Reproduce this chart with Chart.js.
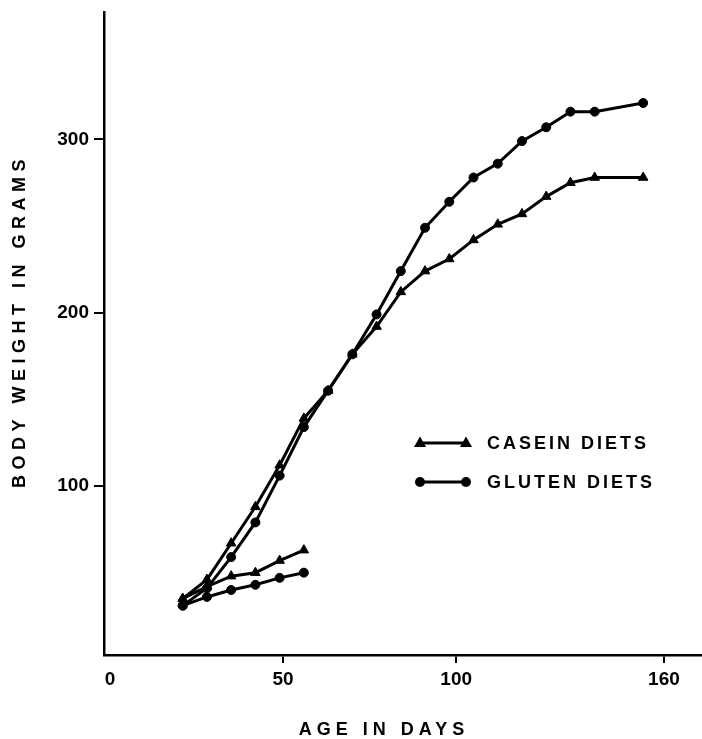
<!DOCTYPE html>
<html>
<head>
<meta charset="utf-8">
<script src="https://cdn.jsdelivr.net/npm/chart.js@4.4.0/dist/chart.umd.min.js"></script>
<style>
  html, body { margin: 0; padding: 0; background: #fff; }
  #wrap { width: 702px; height: 739px; }
</style>
</head>
<body>
<div id="wrap"><canvas id="c" width="702" height="739"></canvas></div>
<script>
// ---- data ----
const days = [21, 28, 35, 42, 49, 56, 63, 70, 77, 84, 91, 98, 105, 112, 119, 126, 133, 140, 154];
const caseinHigh = [35, 46, 67, 88, 112, 139, 155, 176, 192, 212, 224, 231, 242, 251, 257, 267, 275, 278, 278];
const glutenHigh = [31, 41, 59, 79, 106, 134, 155, 176, 199, 224, 249, 264, 278, 286, 299, 307, 316, 316, 321];
const shortDays = [21, 28, 35, 42, 49, 56];
const caseinLow = [35, 42, 48, 50, 57, 63];
const glutenLow = [31, 36, 40, 43, 47, 50];
const xTicks = [0, 50, 100, 160];
const yTicks = [100, 200, 300];
const xTitle = 'AGE IN DAYS';
const yTitle = 'BODY WEIGHT IN GRAMS';
const legendLabels = ['CASEIN DIETS', 'GLUTEN DIETS'];

const pts = (xs, ys) => xs.map((x, i) => ({ x: x, y: ys[i] }));
const FONT = '"Liberation Sans", Arial, sans-serif';

function ds(label, data, style, r) {
  return {
    label: label, data: data,
    borderColor: '#000', backgroundColor: '#000',
    borderWidth: 3, tension: 0,
    pointStyle: style, pointRadius: r, pointHoverRadius: r,
    pointBorderWidth: 1, showLine: true
  };
}

const decor = {
  id: 'decor',
  afterDraw(chart) {
    const ctx = chart.ctx;
    ctx.save();
    ctx.fillStyle = '#000';
    ctx.strokeStyle = '#000';
    ctx.font = 'bold 18px ' + FONT;
    ctx.textBaseline = 'middle';
    // x title
    ctx.letterSpacing = '5px';
    ctx.textAlign = 'center';
    ctx.fillText(xTitle, 384, 730);
    // y title
    ctx.save();
    ctx.translate(20, 321);
    ctx.rotate(-Math.PI / 2);
    ctx.letterSpacing = '5.5px';
    ctx.fillText(yTitle, 0, 0);
    ctx.restore();
    // legend
    ctx.letterSpacing = '3px';
    ctx.textAlign = 'left';
    const rows = [443, 482];
    rows.forEach((y, i) => {
      ctx.lineWidth = 3;
      ctx.beginPath();
      ctx.moveTo(420, y); ctx.lineTo(466, y);
      ctx.stroke();
      [420, 466].forEach(x => {
        ctx.beginPath();
        if (i === 0) {
          ctx.moveTo(x, y - 6.5); ctx.lineTo(x + 6, y + 4); ctx.lineTo(x - 6, y + 4); ctx.closePath();
        } else {
          ctx.arc(x, y, 5, 0, Math.PI * 2);
        }
        ctx.fill();
      });
      ctx.fillText(legendLabels[i], 487, y + 1);
    });
    ctx.restore();
  }
};

function zeroPad(s) { s.paddingLeft = 0; s.paddingRight = 0; s.paddingTop = 0; s.paddingBottom = 0; }

new Chart(document.getElementById('c'), {
  type: 'scatter',
  data: {
    datasets: [
      ds('Casein diets', pts(days, caseinHigh), 'triangle', 5.5),
      ds('Gluten diets', pts(days, glutenHigh), 'circle', 4.5),
      ds('Casein diets (low)', pts(shortDays, caseinLow), 'triangle', 5.5),
      ds('Gluten diets (low)', pts(shortDays, glutenLow), 'circle', 4.5)
    ]
  },
  options: {
    responsive: false,
    animation: false,
    devicePixelRatio: 1,
    layout: { autoPadding: false, padding: { left: 0, right: 0, top: 12, bottom: 0 } },
    plugins: { legend: { display: false }, tooltip: { enabled: false } },
    scales: {
      x: {
        type: 'linear', min: -1.73, max: 171,
        afterBuildTicks: s => { s.ticks = xTicks.map(v => ({ value: v })); },
        afterFit: s => { s.height = 84; zeroPad(s); },
        border: { display: true, color: '#000', width: 2.5 },
        grid: {
          display: true, drawOnChartArea: false, drawTicks: true, tickLength: 8,
          color: c => (c.tick && c.tick.value === 0) ? 'rgba(0,0,0,0)' : '#000', lineWidth: 2
        },
        ticks: { color: '#000', padding: 5, font: { family: FONT, size: 19, weight: 'bold' }, maxRotation: 0, autoSkip: false }
      },
      y: {
        type: 'linear', min: 2.5, max: 373.5,
        afterBuildTicks: s => { s.ticks = yTicks.map(v => ({ value: v })); },
        afterFit: s => { s.width = 104; zeroPad(s); },
        border: { display: true, color: '#000', width: 2.5 },
        grid: { display: true, drawOnChartArea: false, drawTicks: true, tickLength: 10, color: '#000', lineWidth: 2 },
        ticks: { color: '#000', padding: 5, font: { family: FONT, size: 19, weight: 'bold' }, autoSkip: false }
      }
    }
  },
  plugins: [decor]
});
</script>
</body>
</html>
